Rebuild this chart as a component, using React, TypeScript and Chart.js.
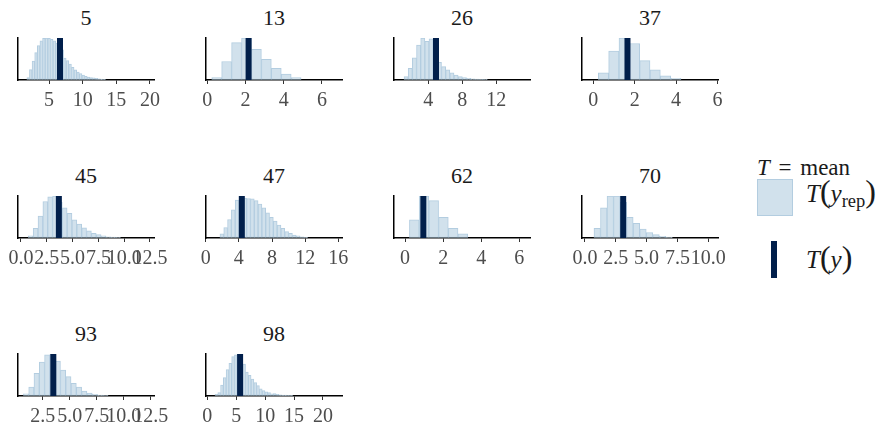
import React, { useEffect, useRef } from "react";
import { Chart, registerables } from "chart.js";

Chart.register(...registerables);

// ---- data ----
const groupLabels = ["5", "13", "26", "37", "45", "47", "62", "70", "93", "98"];
const binStarts = [1.7, 0.23, 1.14, 0.24, 0.71, 1.72, 0.23, 0.73, 0.71, 1.33];
const binWidths = [0.39, 0.52, 0.49, 0.5, 0.47, 0.46, 0.51, 0.53, 0.49, 0.48];
const observedMeans = [6.63, 2.16, 4.9, 1.65, 3.67, 4.36, 0.96, 3.1, 3.48, 5.67];
const xMins = [0.39, -0.07, -0.04, -0.55, -0.29, 0.04, -0.58, -0.24, 0.21, -0.23];
const xMaxs = [20.6, 7.05, 15.96, 6.03, 12.89, 16.44, 6.56, 10.79, 12.8, 23.3];
const tickDecimals = [0, 0, 0, 0, 1, 0, 0, 1, 1, 0];

const ticksG5 = [5, 10, 15, 20];
const ticksG13 = [0, 2, 4, 6];
const ticksG26 = [4, 8, 12];
const ticksG37 = [0, 2, 4, 6];
const ticksG45 = [0, 2.5, 5, 7.5, 10, 12.5];
const ticksG47 = [0, 4, 8, 12, 16];
const ticksG62 = [0, 2, 4, 6];
const ticksG70 = [0, 2.5, 5, 7.5, 10];
const ticksG93 = [2.5, 5, 7.5, 10, 12.5];
const ticksG98 = [0, 5, 10, 15, 20];

const countsG5 = [6, 25, 45, 65, 82, 93, 99, 100, 99, 97, 93, 88, 80, 72, 52, 46, 38, 30, 24, 19, 15, 12, 9, 7, 6, 5, 4, 3, 2, 1];
const countsG13 = [6, 44, 89, 100, 73, 49, 28, 14, 6];
const countsG26 = [8, 28, 53, 83, 100, 92, 98, 70, 42, 32, 24, 17, 12, 8, 6, 4, 3, 2, 1.5, 1];
const countsG37 = [17, 69, 100, 87, 46, 24, 10, 4];
const countsG45 = [5, 23, 52, 87, 98, 100, 85, 72, 59, 43, 33, 24, 17, 11, 8, 5, 3, 2, 1];
const countsG47 = [10, 25, 44, 67, 90, 100, 95, 94, 93, 89, 81, 72, 60, 49, 40, 31, 23, 15, 11, 7, 5, 3, 1.5];
const countsG62 = [43, 100, 89, 49, 23, 10];
const countsG70 = [23, 72, 100, 100, 85, 49, 35, 21, 13, 8, 4, 2];
const countsG93 = [5, 21, 54, 81, 98, 100, 83, 62, 46, 30, 21, 12, 7, 4, 2, 1];
const countsG98 = [4, 8, 26, 44, 63, 78, 94, 98, 100, 96, 76, 57, 49, 40, 32, 25, 17, 13, 10, 8, 5, 6, 4, 3, 2, 2, 1, 1];

const allCounts = [countsG5, countsG13, countsG26, countsG37, countsG45, countsG47, countsG62, countsG70, countsG93, countsG98];
const allTicks = [ticksG5, ticksG13, ticksG26, ticksG37, ticksG45, ticksG47, ticksG62, ticksG70, ticksG93, ticksG98];

// ---- style ----
const LIGHT = "#d1e1ec";
const LIGHT_HI = "#b3cde0";
const DARK = "#011f4b";
const FONT = "'Liberation Serif', serif";

const PANEL_W = 136;
const PANEL_H = 42;
const COL_STEP = 188;
const ROW_STEP = 158;
const FIRST_LEFT = 18;
const FIRST_TOP = 38;
const PAD_L = 18;
const PAD_R = 34;
const PAD_T = 8;
const X_AXIS_H = 32;
const CANVAS_W = PAD_L + PANEL_W + PAD_R;
const CANVAS_H = PAD_T + PANEL_H + X_AXIS_H + 2;

function makeConfig(i: number): any {
  const start = binStarts[i];
  const w = binWidths[i];
  const counts = allCounts[i];
  const bars = counts.map((c, k) => ({ x: start + (k + 0.5) * w, y: c }));
  const yMax = Math.max(...counts);
  return {
    type: "bar",
    data: {
      datasets: [
        {
          type: "line",
          data: [
            { x: observedMeans[i], y: 0 },
            { x: observedMeans[i], y: yMax },
          ],
          borderColor: DARK,
          borderWidth: 6,
          borderCapStyle: "butt",
          pointRadius: 0,
          order: 0,
        },
        {
          type: "bar",
          data: bars,
          backgroundColor: LIGHT,
          borderColor: LIGHT_HI,
          borderWidth: 1,
          borderSkipped: false,
          barPercentage: 1,
          categoryPercentage: 1,
          order: 1,
        },
      ],
    },
    options: {
      animation: false,
      responsive: false,
      events: [],
      layout: { padding: { left: PAD_L, right: PAD_R, top: PAD_T, bottom: 2 } },
      plugins: {
        legend: { display: false },
        tooltip: { enabled: false },
        title: { display: false },
      },
      scales: {
        x: {
          type: "linear",
          min: xMins[i],
          max: xMaxs[i],
          offset: false,
          grid: {
            display: true,
            drawOnChartArea: false,
            drawTicks: true,
            tickLength: 4,
            color: "#333333",
            lineWidth: 1,
            offset: false,
          },
          border: { display: true, color: "#000000", width: 1.5 },
          ticks: {
            autoSkip: false,
            maxRotation: 0,
            minRotation: 0,
            padding: 5,
            color: "#4d4d4d",
            font: { family: FONT, size: 20 },
            callback: (v: any) => Number(v).toFixed(tickDecimals[i]),
          },
          afterBuildTicks: (s: any) => {
            s.ticks = allTicks[i].map((v) => ({ value: v }));
          },
          afterFit: (s: any) => {
            s.height = X_AXIS_H;
          },
        },
        y: {
          type: "linear",
          min: 0,
          max: yMax,
          display: true,
          grid: { display: true, drawOnChartArea: false, drawTicks: false },
          border: { display: true, color: "#000000", width: 1.5 },
          ticks: { display: false },
          afterFit: (s: any) => {
            s.width = 0;
          },
        },
      },
    },
  };
}

function Panel({ i }: { i: number }) {
  const ref = useRef<HTMLCanvasElement>(null);
  useEffect(() => {
    const chart = new Chart(ref.current as HTMLCanvasElement, makeConfig(i));
    return () => chart.destroy();
  }, [i]);
  const col = i % 4;
  const row = Math.floor(i / 4);
  const axisLeft = FIRST_LEFT + COL_STEP * col;
  const axisTop = FIRST_TOP + ROW_STEP * row;
  return (
    <>
      <div
        style={{
          position: "absolute",
          left: axisLeft,
          top: axisTop - 31.5,
          width: PANEL_W,
          textAlign: "center",
          font: `22px ${FONT}`,
          lineHeight: "22px",
          color: "#1a1a1a",
        }}
      >
        {groupLabels[i]}
      </div>
      <div
        style={{
          position: "absolute",
          left: axisLeft - PAD_L,
          top: axisTop - PAD_T,
          width: CANVAS_W,
          height: CANVAS_H,
        }}
      >
        <canvas ref={ref} width={CANVAS_W} height={CANVAS_H} style={{ width: CANVAS_W, height: CANVAS_H }} />
      </div>
    </>
  );
}

function Legend() {
  const txt: React.CSSProperties = {
    position: "absolute",
    fontFamily: FONT,
    color: "#1a1a1a",
    whiteSpace: "nowrap",
  };
  return (
    <>
      <div style={{ ...txt, left: 757, top: 156, fontSize: 23, lineHeight: "23px", wordSpacing: 3 }}>
        <i>T</i> = mean
      </div>
      <div
        style={{
          position: "absolute",
          left: 757,
          top: 179,
          width: 36,
          height: 37,
          boxSizing: "border-box",
          background: LIGHT,
          border: `1px solid ${LIGHT_HI}`,
        }}
      />
      <div style={{ ...txt, left: 806, top: 179, fontSize: 25, lineHeight: "25px" }}>
        <i>T</i>
        <span style={{ fontSize: "1.28em" }}>(</span>
        <i>y</i>
        <span style={{ fontSize: "0.74em", position: "relative", top: "0.28em" }}>rep</span>
        <span style={{ fontSize: "1.28em" }}>)</span>
      </div>
      <div
        style={{
          position: "absolute",
          left: 771,
          top: 241,
          width: 6,
          height: 37,
          background: DARK,
        }}
      />
      <div style={{ ...txt, left: 806, top: 245, fontSize: 25, lineHeight: "25px" }}>
        <i>T</i>
        <span style={{ fontSize: "1.28em" }}>(</span>
        <i>y</i>
        <span style={{ fontSize: "1.28em" }}>)</span>
      </div>
    </>
  );
}

export default function App() {
  return (
    <div
      style={{
        position: "fixed",
        left: 0,
        top: 0,
        width: 884,
        height: 424,
        background: "#ffffff",
        overflow: "hidden",
      }}
    >
      {groupLabels.map((_, i) => (
        <Panel key={i} i={i} />
      ))}
      <Legend />
    </div>
  );
}
